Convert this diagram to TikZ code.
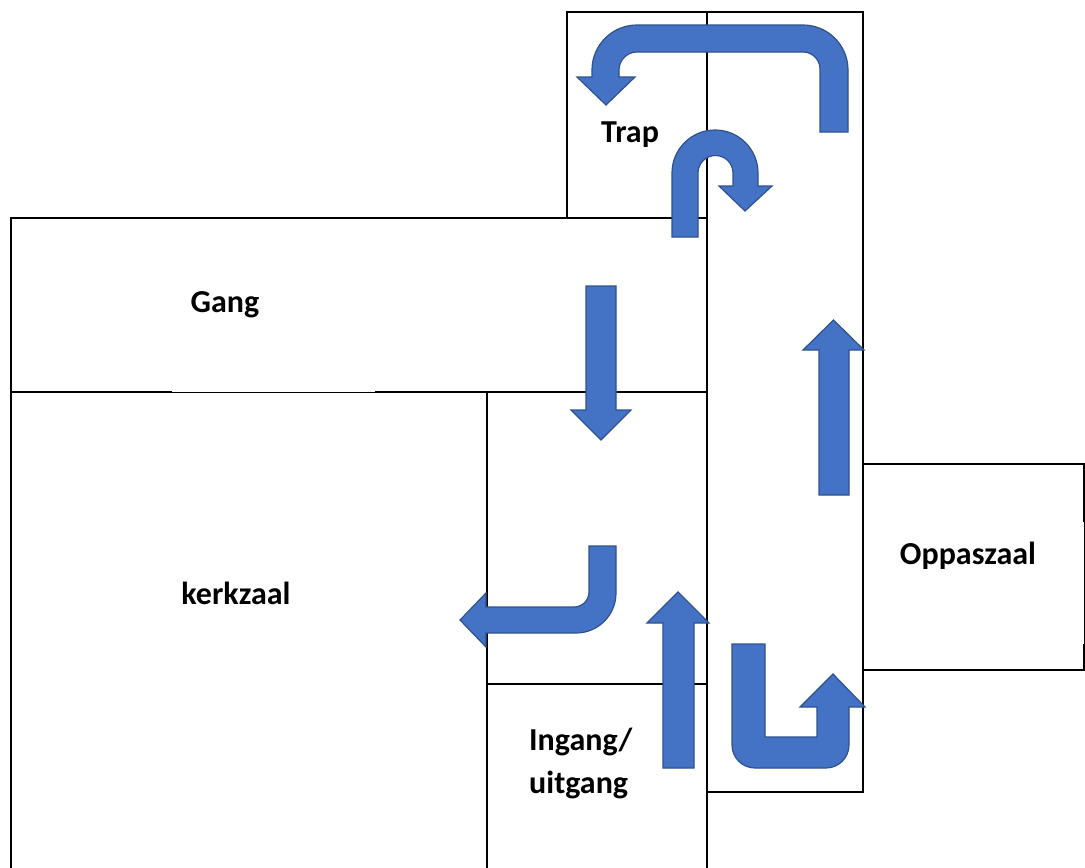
\documentclass[tikz,border=0pt]{standalone}
\usepackage{fontspec}
\setmainfont{Carlito}
\definecolor{flowblue}{RGB}{68, 114, 196}
\definecolor{flowedge}{RGB}{47, 82, 143}
\usepackage{tikz}
\usetikzlibrary{positioning}

\begin{document}
\begin{tikzpicture}[
  x=1pt, y=-1pt,
  wall/.style={draw=black, line width=2.5pt, line cap=rect},
  thinwall/.style={draw=black, line width=1pt},
  flow/.style={draw=flowedge, fill=flowblue, line width=1.2pt, line join=miter},
  roomlabel/.style={font=\bfseries\fontsize{32}{43}\selectfont, text=black, inner sep=0pt, align=left}
]
  \useasboundingbox (0,0) rectangle (1085,868);
  \fill[white] (0,0) rectangle (1085,868);

  % Walls
  \draw[wall] (567,218) -- (567,12) -- (863,12) -- (863,792) -- (707,792);
  \draw[wall] (707,12) -- (707,868);
  \draw[wall] (11,868) -- (11,218) -- (707,218);
  \draw[wall] (11,392) -- (171,392);
  \draw[thinwall] (171,392.5) -- (376,392.5);
  \draw[wall] (376,392) -- (707,392);
  \draw[wall] (487,392) -- (487,868);
  \draw[wall] (487,684) -- (707,684);
  \draw[wall] (1084,521) -- (1084,464) -- (863,464);
  \draw[thinwall] (1084,521) -- (1084,645);
  \draw[wall] (1084,645) -- (1084,670) -- (863,670);

  % Labels
  \node[roomlabel] (gang) at (225,305) {Gang};
  \node[roomlabel] (kerkzaal) at (236,593) {kerkzaal};
  \node[roomlabel] (trap) at (630,135) {Trap};
  \node[roomlabel] (oppaszaal) at (968,556) {Oppaszaal};
  \node[roomlabel, anchor=west] (ingang) at (529,763) {Ingang/\\uitgang};

  % Flow arrows
  \draw[flow] (848,132) -- (848,70) arc[start angle=0, end angle=-90, radius=45]
    -- (637,25) arc[start angle=-90, end angle=-180, radius=45]
    -- (592,77) -- (577,77) -- (606,105) -- (635,77) -- (619,77) -- (619,70)
    arc[start angle=180, end angle=270, radius=18] -- (803,52)
    arc[start angle=270, end angle=360, radius=17] -- (820,132) -- cycle;
  \draw[flow] (672,237) -- (672,173) arc[start angle=180, end angle=360, radius=43]
    -- (758,186) -- (772,186) -- (745,211) -- (719,186) -- (733,186) -- (733,173)
    arc[start angle=0, end angle=-180, radius=17.5] -- (698,237) -- cycle;
  \draw[flow] (586,286) -- (616,286) -- (616,410) -- (631,410) -- (601,440) -- (571,410) -- (586,410) -- cycle;
  \draw[flow] (819,495) -- (849,495) -- (849,350) -- (864,350) -- (833.5,320) -- (803,350) -- (819,350) -- cycle;
  \draw[flow] (616,546) -- (616,593) arc[start angle=0, end angle=90, radius=40]
    -- (486,633) -- (486,647) -- (460,620) -- (486,593) -- (486,607) -- (574,607)
    arc[start angle=90, end angle=0, radius=15] -- (589,546) -- cycle;
  \draw[flow] (663,768) -- (694,768) -- (694,623) -- (709,623) -- (678,592) -- (647,623) -- (663,623) -- cycle;
  \draw[flow] (732,644) -- (765,644) -- (765,737) -- (817,737) -- (817,707) -- (800,707) -- (833,674) -- (865,707) -- (849,707) -- (849,745)
    arc[start angle=0, end angle=90, radius=23] -- (755,768)
    arc[start angle=90, end angle=180, radius=23] -- cycle;
\end{tikzpicture}
\end{document}
